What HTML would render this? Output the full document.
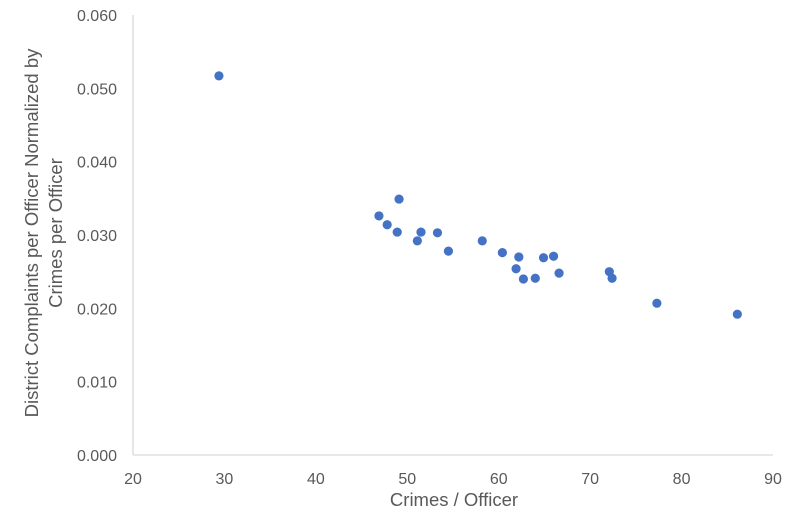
<!DOCTYPE html>
<html><head><meta charset="utf-8"><style>
html,body{margin:0;padding:0;background:#fff;}
svg{display:block;font-family:"Liberation Sans",sans-serif;}
</style></head><body>
<svg id="chart" width="800" height="514" viewBox="0 0 800 514" xmlns="http://www.w3.org/2000/svg"></svg>
<script>
const xValues=[29.4,46.9,47.8,48.9,49.1,51.1,51.5,53.3,54.5,58.2,60.4,61.9,62.2,62.7,64.0,64.9,66.0,66.6,72.1,72.4,77.3,86.1];
const yValues=[0.0517,0.0326,0.0314,0.0304,0.0349,0.0292,0.0304,0.0303,0.0278,0.0292,0.0276,0.0254,0.0270,0.0240,0.0241,0.0269,0.0271,0.0248,0.0250,0.0241,0.0207,0.0192];
const xTicks=[20,30,40,50,60,70,80,90];
const yTicks=[0,0.01,0.02,0.03,0.04,0.05,0.06];
const NS="http://www.w3.org/2000/svg";
const svg=document.getElementById('chart');
const X0=133,X1=773,Y0=455,Y1=15;
function sx(v){return X0+(v-20)/70*(X1-X0);}
function sy(v){return Y0-(v/0.06)*(Y0-Y1);}
function mk(t,a,txt){const e=document.createElementNS(NS,t);for(const k in a)e.setAttribute(k,a[k]);if(txt!==undefined)e.textContent=txt;svg.appendChild(e);return e;}
let e;
e=mk('line',{x1:X0,y1:Y1,x2:X0,y2:Y0,stroke:'#d9d9d9','stroke-width':1.3});


e=mk('line',{x1:X0,y1:Y0,x2:X1,y2:Y0,stroke:'#d9d9d9','stroke-width':1.3});


yTicks.forEach(v=>{
 const t=mk('text',{x:117,y:sy(v)+6,'text-anchor':'end','font-size':16,fill:'#595959'},v.toFixed(3));
 
 
});
xTicks.forEach(v=>{
 const t=mk('text',{x:sx(v),y:484,'text-anchor':'middle','font-size':16,fill:'#595959'},String(v));
 
 
});
e=mk('text',{x:454,y:506,'text-anchor':'middle','font-size':18.5,fill:'#595959'},'Crimes / Officer');


e=mk('text',{transform:'translate(38,233) rotate(-90)','text-anchor':'middle','font-size':18.5,fill:'#595959'},'District Complaints per Officer Normalized by');


e=mk('text',{transform:'translate(62,233) rotate(-90)','text-anchor':'middle','font-size':18.5,fill:'#595959'},'Crimes per Officer');


xValues.forEach((xv,i)=>{
 const c=mk('circle',{cx:sx(xv),cy:sy(yValues[i]),r:4.6,fill:'#4472c4'});
 
 
});
</script>
</body></html>
